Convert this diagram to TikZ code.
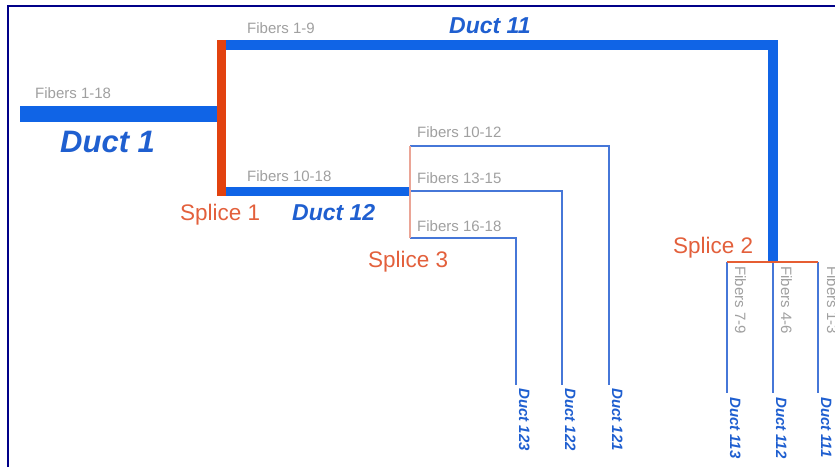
\documentclass[tikz,border=0pt]{standalone}
\usepackage{fontspec}
\setmainfont{Liberation Sans}
\definecolor{ductblue}{HTML}{1064E6}
\definecolor{ducttext}{HTML}{1F5FD0}
\definecolor{thinblue}{HTML}{4677D8}
\definecolor{splicered}{HTML}{E2420F}
\definecolor{splicetext}{HTML}{E3603C}
\definecolor{splicelight}{HTML}{EBA596}
\definecolor{fibgray}{HTML}{A0A0A0}
\definecolor{framenavy}{HTML}{000088}
\tikzset{
  thick duct/.style={draw=ductblue, line width=#1},
  thin duct/.style={draw=thinblue, line width=2pt},
  fiblabel/.style={text=fibgray, font=\fontsize{15}{17}\selectfont, inner sep=0pt, anchor=base west},
  ductlabel/.style={text=ducttext, font=\fontsize{#1}{#1}\selectfont\bfseries\itshape, inner sep=0pt, anchor=base west},
  splicelabel/.style={text=splicetext, font=\fontsize{22.5}{24}\selectfont, inner sep=0pt, anchor=base west},
  vfib/.style={fiblabel, rotate=-90},
  vduct/.style={ductlabel=15, rotate=-90},
}
\begin{document}
\begin{tikzpicture}[x=1pt, y=-1pt]
\useasboundingbox (0,0) rectangle (835,467);
\clip (0,0) rectangle (835,467);
\fill[white] (0,0) rectangle (835,467);

% frame
\draw[framenavy, line width=2.5pt] (8,467) -- (8,6) -- (835,6);

% junction points
\coordinate (d1start) at (20,114);
\coordinate (s1mid) at (221,114);
\coordinate (s1top) at (221,40);
\coordinate (s1bot) at (221,196);
\coordinate (d11a) at (221,45);
\coordinate (d11b) at (773,45);
\coordinate (s2) at (773,262);
\coordinate (d12a) at (221,191);
\coordinate (s3) at (410,191);
\coordinate (s3top) at (410,146);
\coordinate (s3bot) at (410,238);
\coordinate (s2l) at (727,262);
\coordinate (s2r) at (818,262);

% Duct 1
\draw[thick duct=16pt] (d1start) -- (s1mid);
% Duct 11
\draw[thick duct=10pt] (d11a) -- (d11b) -- (s2);
% Duct 12
\draw[thick duct=9pt] (d12a) -- (s3);

% branches from Splice 3
\coordinate (b121) at (609,385);
\coordinate (b122) at (562,385);
\coordinate (b123) at (516,385);
\draw[thin duct] (s3top) -| (b121);
\draw[thin duct] (s3) -| (b122);
\draw[thin duct] (s3bot) -| (b123);

% branches from Splice 2
\coordinate (b113) at (727,393);
\coordinate (b112) at (773,393);
\coordinate (b111) at (818,393);
\draw[thin duct] (s2l) -- (b113);
\draw[thin duct] (s2) -- (b112);
\draw[thin duct] (s2r) -- (b111);

% splices
\draw[splicered, line width=9pt] (s1top) -- (s1bot);
\draw[splicelight, line width=2pt] (s3top) -- (s3bot);
\draw[splicered!85!white, line width=2pt] (s2l) -- (s2r);

% horizontal labels
\node[fiblabel] (f118) at (35,98) {Fibers 1-18};
\node[ductlabel=31] (t1) at (60,152) {Duct 1};
\node[fiblabel] (f19) at (247,33) {Fibers 1-9};
\node[ductlabel=23] (t11) at (449,33) {Duct 11};
\node[fiblabel] (f1018) at (247,181) {Fibers 10-18};
\node[ductlabel=23] (t12) at (292,220) {Duct 12};
\node[splicelabel] (sp1) at (180,220) {Splice 1};
\node[fiblabel] (f1012) at (417,137) {Fibers 10-12};
\node[fiblabel] (f1315) at (417,183) {Fibers 13-15};
\node[fiblabel] (f1618) at (417,231) {Fibers 16-18};
\node[splicelabel] (sp3) at (368,267) {Splice 3};
\node[splicelabel] (sp2) at (673,253) {Splice 2};

% vertical labels
\node[vfib] (f79) at (735,266) {Fibers 7-9};
\node[vfib] (f46) at (781,266) {Fibers 4-6};
\node[vfib] (f13) at (827,266) {Fibers 1-3};
\node[vduct] (t123) at (519,388) {Duct 123};
\node[vduct] (t122) at (565,388) {Duct 122};
\node[vduct] (t121) at (612,388) {Duct 121};
\node[vduct] (t113) at (730,397) {Duct 113};
\node[vduct] (t112) at (776,397) {Duct 112};
\node[vduct] (t111) at (821,397) {Duct 111};
\end{tikzpicture}
\end{document}
